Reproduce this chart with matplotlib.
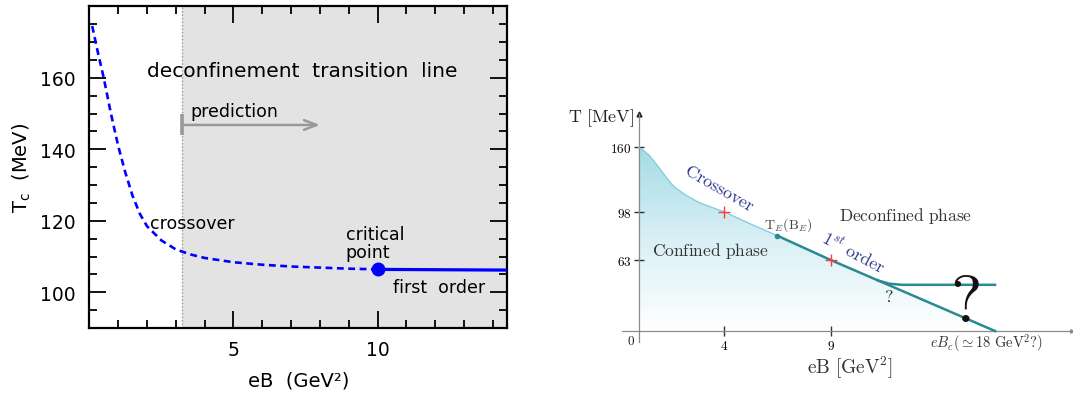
import numpy as np
import matplotlib
matplotlib.use("Agg")
import matplotlib.pyplot as plt
from matplotlib.patches import Polygon
from matplotlib.colors import LinearSegmentedColormap

# ---------------- left panel: T_c versus eB ----------------
eb_crossover = [0.1, 0.3, 0.5, 0.75, 1.0, 1.25, 1.5, 1.75, 2.0, 2.5, 3.0,
                3.5, 4.0, 5.0, 6.0, 7.0, 8.0, 9.0, 10.0]
tc_crossover = [174.5, 167, 160, 150, 141, 133.5, 127, 122, 118.5, 114.5,
                112, 110.6, 109.6, 108.4, 107.7, 107.2, 106.9, 106.6, 106.4]
eb_first_order = [10.0, 14.5]
tc_first_order = [106.4, 106.2]
eb_critical = 10.0
tc_critical = 106.4
eb_prediction = [3.23, 8.0]
tc_prediction = 146.8
left_xticks = [5, 10]
left_xminor = list(range(0, 15))
left_yticks = [100, 120, 140, 160]
left_yminor = list(range(90, 181, 5))

# ---------------- right panel: schematic phase diagram ----------------
eb_xover = [0, 0.234, 0.502, 0.75, 1.0, 1.22, 1.47, 1.73, 2.25, 2.81, 3.38,
            4.0, 5.2, 6.5]
t_xover = [160, 156.9, 152.0, 145.8, 139.1, 133.0, 126.3, 120.8, 113.4,
           107.0, 102.5, 98, 89.4, 80.6]
eb_first = [6.5, 9.0, 18.0]
t_first = [80.6, 63, 0]
eb_branch = [11.6, 12.2, 12.9, 18.0]
t_branch = [44.8, 42.0, 41.0, 41.0]
eb_endpoint, t_endpoint = 6.5, 80.6
eb_marks = [4, 9]
t_marks = [98, 63]
right_xticks = [4, 9]
right_yticks = [160, 98, 63]

W, H = 1073, 402
fig = plt.figure(figsize=(W / 100, H / 100), dpi=100)

# ======== left panel ========
ax = fig.add_axes([89.3 / W, (H - 329) / H, 418 / W, 321.7 / H])
ax.axvspan(eb_prediction[0], 14.5, color="#e3e3e3", zorder=0, lw=0)
ax.axvline(eb_prediction[0], color="#9a9a9a", lw=1.0, ls=(0, (1, 1.5)), zorder=1)

ax.plot(eb_crossover, tc_crossover, color="#0000ff", lw=1.9,
        dashes=(2.6, 1.7), zorder=3)
ax.plot(eb_first_order, tc_first_order, color="#0000ff", lw=2.3, zorder=3)
ax.plot([eb_critical], [tc_critical], "o", color="#0000ff", ms=9, zorder=4)

ax.annotate("", xy=(eb_prediction[1], tc_prediction),
            xytext=(eb_prediction[0], tc_prediction),
            arrowprops=dict(arrowstyle="->,head_length=0.9,head_width=0.35",
                            color="#999999", lw=1.8, shrinkA=0, shrinkB=0))
ax.plot([eb_prediction[0]] * 2, [tc_prediction - 2.8, tc_prediction + 3.2],
        color="#999999", lw=2.6, solid_capstyle="butt")

ax.text(2.0, 162, "deconfinement  transition  line", fontsize=14.5,
        va="center", ha="left")
ax.text(3.52, 150.8, "prediction", fontsize=12.5, va="center", ha="left")
ax.text(2.1, 119.4, "crossover", fontsize=12.5, va="center", ha="left")
ax.text(8.9, 113.9, "critical\npoint", fontsize=12.5, va="center", ha="left",
        linespacing=1.0)
ax.text(10.52, 101.4, "first  order", fontsize=12.5, va="center", ha="left")

ax.set_xticks(left_xticks)
ax.set_xticks(left_xminor, minor=True)
ax.set_yticks(left_yticks)
ax.set_yticks(left_yminor, minor=True)
ax.set_xlim(0, 14.5)
ax.set_ylim(90, 180)
ax.tick_params(which="both", direction="in", top=True, right=True,
               width=1.3, labelsize=13.5)
ax.tick_params(which="major", length=12)
ax.tick_params(which="minor", length=6)
ax.tick_params(axis="x", pad=9)
ax.tick_params(axis="y", pad=10)
for s in ax.spines.values():
    s.set_linewidth(1.6)
ax.set_xlabel("eB  (GeV²)", fontsize=14, labelpad=8)
ax.set_ylabel("T$_\\mathregular{c}$  (MeV)", fontsize=14, labelpad=5)

# ======== right panel ========
axr = fig.add_axes([621.7 / W, (H - 343) / H, 450 / W, 228 / H])
xs_v = [-10, 0, 4, 9, 18, 40]
xs_p = [-213.3, 0, 85.3, 192, 356.3, 758]
ys_v = [-50, 0, 63, 98, 160, 250]
ys_p = [-56.3, 0, 71, 119.3, 183.7, 277.2]
axr.set_xscale("function", functions=(lambda v: np.interp(v, xs_v, xs_p),
                                      lambda p: np.interp(p, xs_p, xs_v)))
axr.set_yscale("function", functions=(lambda v: np.interp(v, ys_v, ys_p),
                                      lambda p: np.interp(p, ys_p, ys_v)))
axr.set_xlim(-0.8, 22.2)
axr.set_ylim(-9.76, 192.1)
axr.patch.set_alpha(0)

# shaded confined region with a vertical fade
cmap = LinearSegmentedColormap.from_list("fade", ["#ffffff", "#d9f0f5", "#a5dbe6"])
grad = np.linspace(0, 1, 256).reshape(-1, 1)
y0 = 11 / 228
y1 = (11 + 183.7) / 228
im = axr.imshow(grad, cmap=cmap, origin="lower", aspect="auto",
                extent=[0, 1, y0, y1], transform=axr.transAxes, zorder=0)
verts = list(zip(eb_xover, t_xover)) + list(zip(eb_first[1:], t_first[1:])) + [(0, 0)]
region = Polygon(verts, closed=True, transform=axr.transData)
im.set_clip_path(region)

axr.plot(eb_xover, t_xover, color="#7ccbe0", lw=0.9, zorder=3)
axr.plot(eb_first, t_first, color="#2a8a92", lw=1.8, zorder=3)
axr.plot(eb_branch, t_branch, color="#2a8a92", lw=1.8, zorder=3)
axr.plot([eb_endpoint], [t_endpoint], "o", color="#2a8a92", ms=3, zorder=4)
axr.plot(eb_marks, t_marks, "+", color="#ff3b3b", ms=8, mew=1.0, zorder=5)

for side in ("top", "right"):
    axr.spines[side].set_visible(False)
axr.spines["left"].set_position(("data", 0))
axr.spines["bottom"].set_position(("data", 0))
for side in ("left", "bottom"):
    axr.spines[side].set_color("#8a8a8a")
    axr.spines[side].set_linewidth(0.9)
axr.plot(0, 1, "^", color="#222222", ms=3.5, transform=axr.get_xaxis_transform(),
         clip_on=False)
axr.plot(1, 0, ">", color="#8a8a8a", ms=2.5, transform=axr.get_yaxis_transform(),
         clip_on=False)

axr.set_xticks(right_xticks, [f"${v}$" for v in right_xticks],
               math_fontfamily="cm", fontsize=9.5)
axr.set_yticks(right_yticks, [f"${v}$" for v in right_yticks],
               math_fontfamily="cm", fontsize=9.5)
axr.minorticks_off()
axr.tick_params(direction="inout", length=7, width=1.0, color="#333333", pad=2)

txt = dict(transform=axr.transAxes, math_fontfamily="cm", ha="center",
           va="center", clip_on=False)
axr.text(-0.0464, 0.9855, r"$\mathrm{T\ [MeV]}$", fontsize=13, color="#222222", **txt)
axr.text(0.02, 0.0057, r"$0$", fontsize=9.5, color="#222222", **txt)
axr.text(0.5073, -0.111, r"$\mathrm{eB\ [GeV^2]}$", fontsize=14, color="#333333", **txt)
axr.text(0.2184, 0.6754, r"$\mathrm{Crossover}$", fontsize=13, color="#2e3b8f",
         rotation=-30, **txt)
axr.text(0.3702, 0.5175, r"$\mathrm{T}_E(\mathrm{B}_E)$", fontsize=10,
         color="#444444", **txt)
axr.text(0.6311, 0.557, r"$\mathrm{Deconfined\ phase}$", fontsize=12.5,
         color="#333333", **txt)
axr.text(0.1973, 0.4035, r"$\mathrm{Confined\ phase}$", fontsize=12.5,
         color="#333333", **txt)
axr.text(0.5147, 0.3934, r"$1^{st}\ \mathrm{order}$", fontsize=13, color="#2e3b8f",
         rotation=-28, **txt)
axr.text(0.5924, 0.2031, r"$?$", fontsize=13, color="#333333", **txt)
axr.text(0.7629, 0.1741, r"$\mathbf{?}$", fontsize=48, color="#111111", **txt)
axr.text(0.8111, -0.0013, r"$eB_c(\simeq 18\ \mathrm{GeV}^2?)$", fontsize=10.5,
         color="#333333", **txt)

fig.savefig("out.png", dpi=100)
